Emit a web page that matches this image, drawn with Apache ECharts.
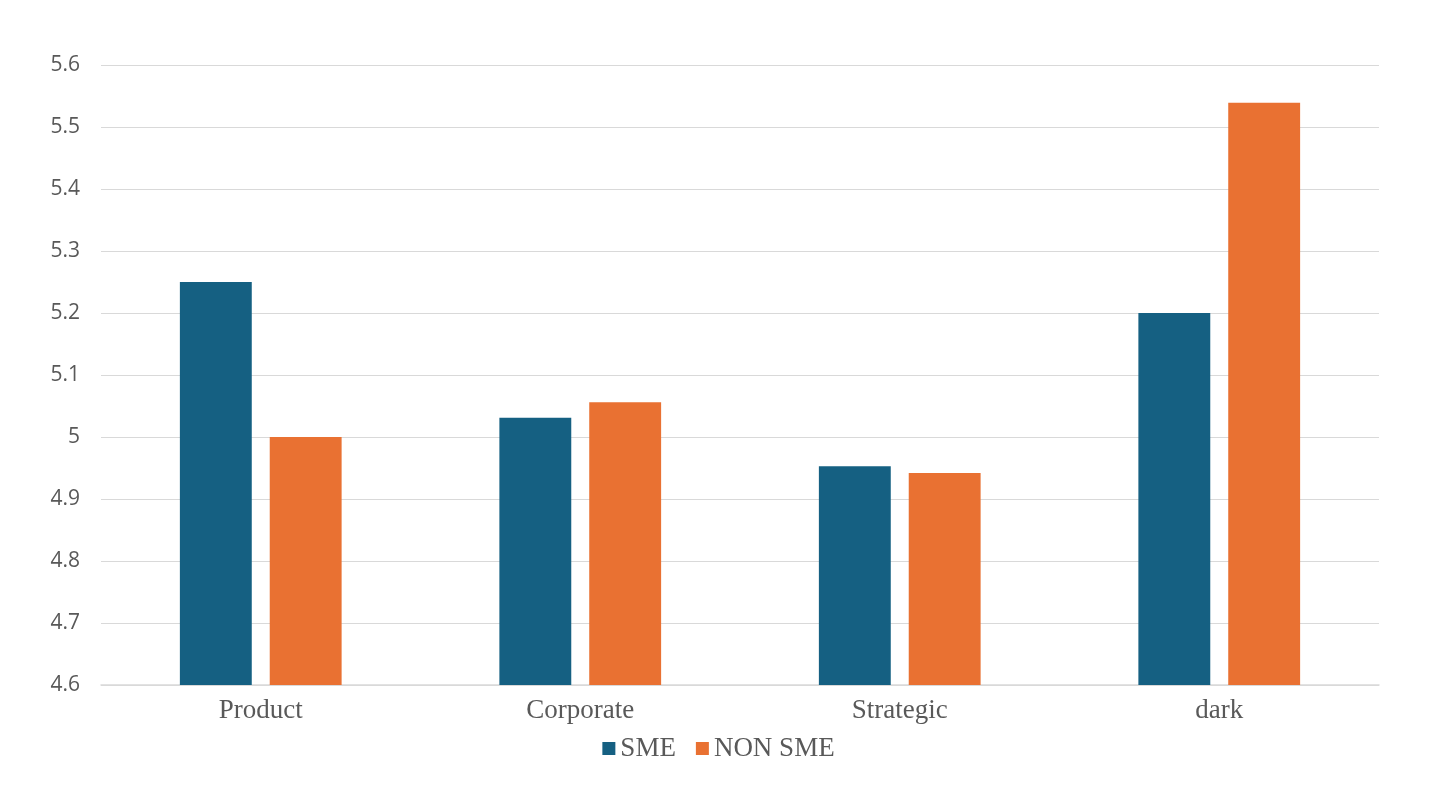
<!DOCTYPE html>
<html>
<head>
<meta charset="utf-8">
<script src="https://cdn.jsdelivr.net/npm/echarts@6/dist/echarts.min.js"></script>
<style>
  html, body { margin: 0; padding: 0; background: #fff; }
  #chart { width: 1437px; height: 811px; }
</style>
</head>
<body>
<div id="chart"></div>
<script>
let categories = ['Product', 'Corporate', 'Strategic', 'dark'];
let smeValues = [5.25, 5.031, 4.953, 5.2];
let nonSmeValues = [5.0, 5.056, 4.942, 5.539];

let serif = '"Liberation Serif", "DejaVu Serif", serif';
let sans = '"Open Sans", "Noto Sans", sans-serif';

let option = {
  backgroundColor: '#fff',
  animation: false,
  grid: {
    left: 101,
    right: 58,
    top: 65,
    bottom: 126
  },
  legend: {
    bottom: 44,
    left: 'center',
    itemWidth: 13,
    itemHeight: 13,
    itemGap: 20,
    icon: 'rect',
    textStyle: {
      fontFamily: serif,
      fontSize: 27,
      color: '#595959'
    },
    data: ['SME', 'NON SME']
  },
  xAxis: {
    type: 'category',
    data: categories,
    axisTick: { show: false },
    axisLine: { lineStyle: { color: '#d9d9d9', width: 1.5 } },
    axisLabel: {
      fontFamily: serif,
      fontSize: 27,
      color: '#595959',
      margin: 12
    }
  },
  yAxis: {
    type: 'value',
    min: 4.6,
    max: 5.6,
    interval: 0.1,
    axisLine: { show: false },
    axisTick: { show: false },
    splitLine: { lineStyle: { color: '#d9d9d9', width: 1.2 } },
    axisLabel: {
      fontFamily: sans,
      fontSize: 21,
      color: '#595959',
      margin: 21,
      formatter: function (v) {
        return String(Math.round(v * 10) / 10);
      }
    }
  },
  series: [
    {
      name: 'SME',
      type: 'bar',
      data: smeValues,
      barWidth: '22.5%',
      barGap: '25%',
      itemStyle: { color: '#156082' }
    },
    {
      name: 'NON SME',
      type: 'bar',
      data: nonSmeValues,
      barWidth: '22.5%',
      itemStyle: { color: '#e97132' }
    }
  ]
};

let myChart = echarts.init(document.getElementById('chart'));
myChart.setOption(option);
</script>
</body>
</html>
